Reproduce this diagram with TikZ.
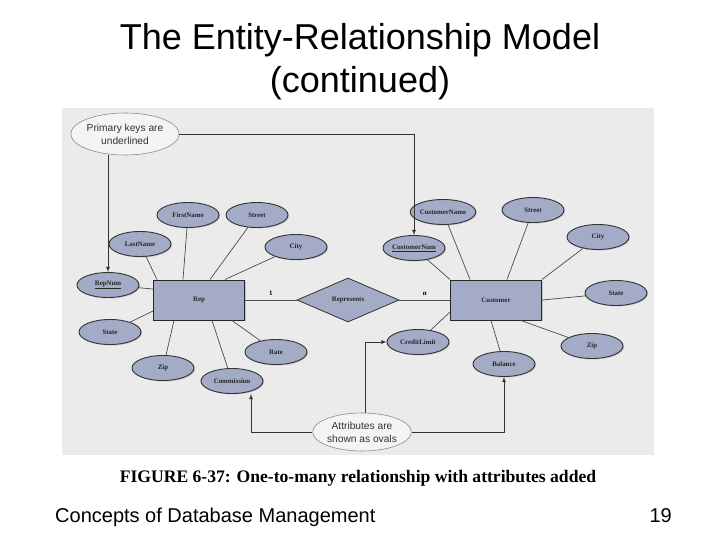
\documentclass[tikz,border=0pt]{standalone}
\usepackage{fontspec}
\setmainfont{Liberation Serif}
\newfontfamily\slidefont{Liberation Sans}
\usetikzlibrary{shapes,arrows,shadows,positioning}

\definecolor{ovalfill}{RGB}{164,171,199}
\definecolor{figback}{RGB}{235,235,235}
\definecolor{notefill}{RGB}{244,244,244}

\tikzset{
  attr/.style={ellipse,draw=black!80,fill=ovalfill,line width=0.9pt,
    minimum width=62pt,minimum height=25pt,inner sep=0pt,
    font=\bfseries\fontsize{6.9}{7}\selectfont,text=black!85,
    drop shadow={shadow xshift=1pt,shadow yshift=-1pt,opacity=0.35}},
  entity/.style={rectangle,draw=black!85,fill=ovalfill,line width=1pt,
    minimum width=91pt,minimum height=40pt,inner sep=0pt,
    font=\bfseries\fontsize{6.9}{7}\selectfont,text=black!85,
    drop shadow={shadow xshift=1pt,shadow yshift=-1pt,opacity=0.35}},
  rel/.style={diamond,draw=black!80,fill=ovalfill,line width=0.8pt,
    minimum width=102pt,minimum height=44pt,inner sep=0pt,
    font=\bfseries\fontsize{6.9}{7}\selectfont,text=black!85},
  note/.style={ellipse,draw=black!45,fill=notefill,line width=0.6pt,
    inner sep=0pt,align=center,text=black!80,
    font=\slidefont\fontsize{10.2}{13}\selectfont},
  link/.style={draw=black!70,line width=0.7pt},
  pointer/.style={->,>=latex,draw=black!80,line width=0.8pt}
}

\begin{document}
\begin{tikzpicture}[x=1pt,y=-1pt]
      \useasboundingbox (0,0) rectangle (720,540);
      \fill[figback] (62,108) rectangle (654,455);

      % slide texts
      \node[font=\slidefont\fontsize{36}{43}\selectfont,align=center,inner sep=0pt] (title) at (360,62) {The Entity-Relationship Model\\(continued)};
      \node[font=\bfseries\fontsize{17.6}{20}\selectfont,inner sep=0pt] (caption) at (358,478) {FIGURE 6-37: One-to-many relationship with attributes added};
      \node[font=\slidefont\fontsize{20}{24}\selectfont,anchor=base west,inner sep=0pt] (course) at (55,522) {Concepts of Database Management};
      \node[font=\slidefont\fontsize{20}{24}\selectfont,anchor=base east,inner sep=0pt] (page) at (672,522) {19};

      % entities and relationship
      \node[entity] (rep) at (199,300) {Rep};
      \node[entity] (cust) at (496,300) {Customer};
      \node[rel] (repr) at (348,300) {Represents};

      \draw[link] (rep) -- node[above=1pt,font=\bfseries\fontsize{6.9}{7}\selectfont] {1} (repr);
      \draw[link] (repr) -- node[above=1pt,font=\bfseries\fontsize{6.9}{7}\selectfont] {n} (cust);

      % attributes of Rep
      \node[attr] (rfirst) at (188,215) {FirstName};
      \node[attr] (rstreet) at (257,215) {Street};
      \node[attr] (rlast) at (140,244) {LastName};
      \node[attr] (rcity) at (296,247) {City};
      \node[attr] (rnum) at (108,285) {\underline{RepNum}};
      \node[attr] (rstate) at (110,332) {State};
      \node[attr] (rzip) at (163,368) {Zip};
      \node[attr] (rcomm) at (232,381) {Commission};
      \node[attr] (rrate) at (276,352) {Rate};

      \draw[link] (rlast) -- ([xshift=4pt]rep.north west);
      \draw[link] (rfirst) -- ([xshift=30pt]rep.north west);
      \draw[link] (rstreet) -- ([xshift=57pt]rep.north west);
      \draw[link] (rcity) -- ([xshift=72pt]rep.north west);
      \draw[link] (rnum) -- ([yshift=11pt]rep.west);
      \draw[link] (rstate) -- ([yshift=-11pt]rep.west);
      \draw[link] (rzip) -- ([xshift=21pt]rep.south west);
      \draw[link] (rcomm) -- ([xshift=59pt]rep.south west);
      \draw[link] (rrate) -- ([xshift=79pt]rep.south west);

      % attributes of Customer
      \node[attr] (cname) at (443,212) {CustomerName};
      \node[attr] (cstreet) at (533,210) {Street};
      \node[attr] (ccity) at (598,237) {City};
      \node[attr] (cnum) at (414,248) {\underline{CustomerNum}};
      \node[attr] (cstate) at (616,293) {State};
      \node[attr] (czip) at (592,346) {Zip};
      \node[attr] (climit) at (418,342) {CreditLimit};
      \node[attr] (cbal) at (504,364) {Balance};

      \draw[link] (cnum) -- (cust.north west);
      \draw[link] (cname) -- ([xshift=20pt]cust.north west);
      \draw[link] (cstreet) -- ([xshift=57pt]cust.north west);
      \draw[link] (ccity) -- (cust.north east);
      \draw[link] (cstate) -- (cust.east);
      \draw[link] (czip) -- ([xshift=-21pt]cust.south east);
      \draw[link] (cbal) -- ([xshift=41pt]cust.south west);
      \draw[link] (climit) -- ([yshift=-12pt]cust.west);

      % callouts
      \node[note,minimum width=94pt,minimum height=42pt] (keys) at (125,134) {Primary keys are\\underlined};
      \node[note,minimum width=90pt,minimum height=38pt] (ovals) at (362,432) {Attributes are\\shown as ovals};

      \draw[pointer] (keys.east) -| (cnum.north);
      \draw[pointer] (keys.south -| rnum.north) -- (rnum.north);
      \draw[pointer] (ovals.west) -| (rcomm.south -| 251,0);
      \draw[pointer] (ovals.north -| 365,0) |- (climit.west);
      \draw[pointer] (ovals.east) -| (cbal.south);
\end{tikzpicture}
\end{document}
